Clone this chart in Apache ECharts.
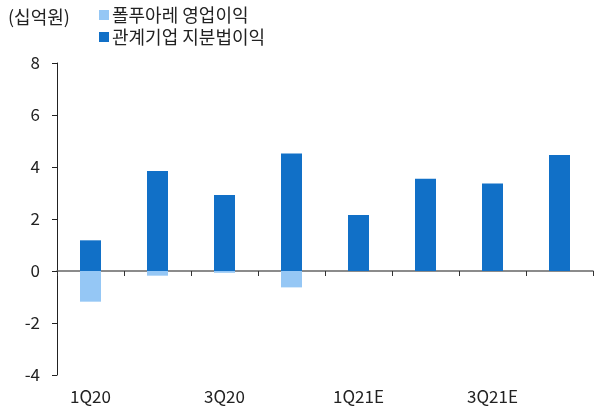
<!DOCTYPE html>
<html>
<head>
<meta charset="utf-8">
<script src="https://cdn.jsdelivr.net/npm/echarts@6/dist/echarts.min.js"></script>
<style>
  html, body { margin: 0; padding: 0; background: #fff; }
  #main { width: 598px; height: 408px; }
</style>
</head>
<body>
<div id="main"></div>
<script>
var quarters = ['1Q20', '2Q20', '3Q20', '4Q20', '1Q21E', '2Q21E', '3Q21E', '4Q21E'];
var opProfit = [-1.18, -0.18, -0.07, -0.63, 0, 0, 0, 0];       // 폴푸아레 영업이익
var equityIncome = [1.18, 3.85, 2.92, 4.52, 2.15, 3.55, 3.37, 4.46]; // 관계기업 지분법이익
var yTicks = [-4, 8, 2];

var FONT = '"Noto Sans CJK KR", "Noto Sans", sans-serif';

var chart = echarts.init(document.getElementById('main'));

var option = {
    animation: false,
    textStyle: { fontFamily: FONT },
    title: {
        text: '(십억원)',
        left: 3, top: 3,
        textStyle: { fontFamily: FONT, fontSize: 18, fontWeight: 'normal', color: '#222' }
    },
    legend: {
        orient: 'vertical',
        left: 94, top: 1,
        itemWidth: 10, itemHeight: 10, itemGap: 4,
        icon: 'rect',
        textStyle: { fontFamily: FONT, fontSize: 18, color: '#222', padding: [0, 0, 0, -2] },
        data: ['폴푸아레 영업이익', '관계기업 지분법이익']
    },
    grid: { left: 57, right: 5, top: 63, bottom: 33, containLabel: false },
    xAxis: {
        type: 'category',
        data: quarters,
        axisLine: { onZero: true, lineStyle: { color: '#666', width: 1.5 } },
        axisTick: { show: true, alignWithLabel: false, interval: 0, length: 5, lineStyle: { color: '#333' } },
        axisLabel: {
            interval: 1,
            fontFamily: FONT, fontSize: 17, color: '#222',
            margin: 13
        },
        position: 'bottom'
    },
    yAxis: {
        type: 'value',
        min: yTicks[0], max: yTicks[1], interval: yTicks[2],
        axisLine: { show: true, lineStyle: { color: '#222' } },
        axisTick: { show: true, length: 5, inside: false, lineStyle: { color: '#222' } },
        splitLine: { show: false },
        axisLabel: { fontFamily: FONT, fontSize: 17, color: '#222', margin: 17 }
    },
    series: [
        {
            name: '폴푸아레 영업이익',
            type: 'bar',
            stack: 'total',
            barWidth: 21,
            itemStyle: { color: '#95C7F5' },
            data: opProfit
        },
        {
            name: '관계기업 지분법이익',
            type: 'bar',
            stack: 'total',
            barWidth: 21,
            itemStyle: { color: '#1170C7' },
            data: equityIncome
        }
    ]
};

chart.setOption(option);
</script>
</body>
</html>
